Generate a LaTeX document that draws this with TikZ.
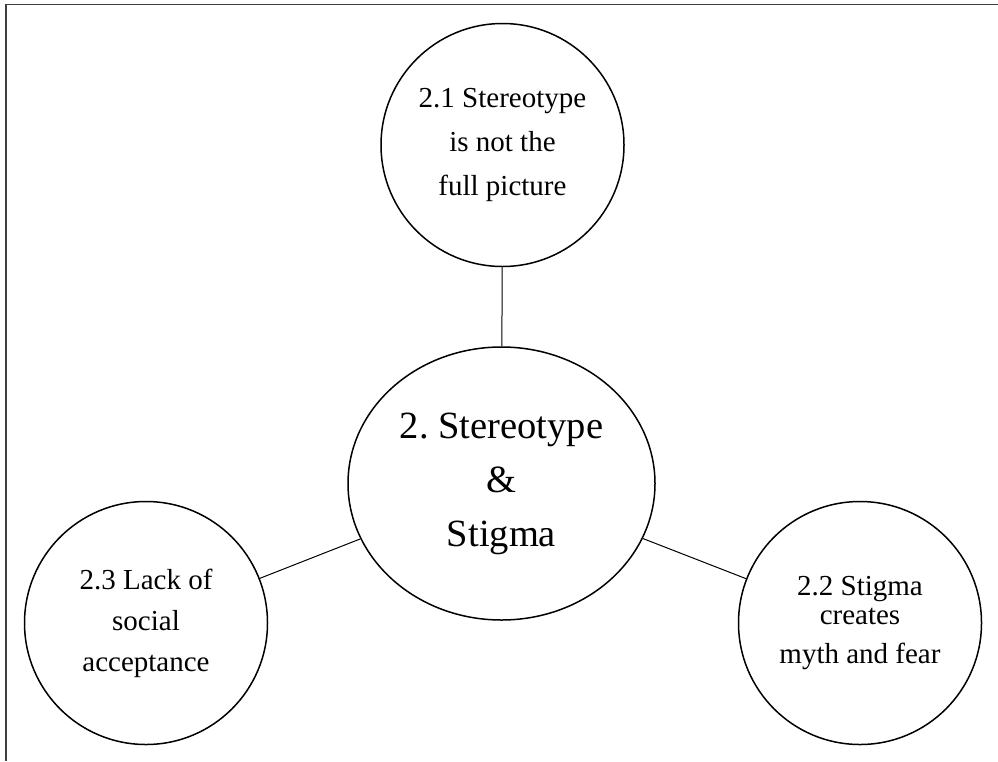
\documentclass[tikz,border=0pt]{standalone}
\usepackage{fontspec}
\setmainfont{Liberation Serif}
\frenchspacing
\usetikzlibrary{shapes.geometric}
\tikzset{
  sub/.style={circle, draw=black, line width=1.5pt, inner sep=0pt, minimum size=243pt, align=center},
  mainbox/.style={ellipse, draw=black, line width=1.5pt, inner sep=0pt, minimum width=307pt, minimum height=273pt, align=center, font=\fontsize{38.5}{54}\selectfont},
  link/.style={draw=black, line width=1pt},
  frameline/.style={draw=black!75, line width=1.5pt}
}
\begin{document}
\begin{tikzpicture}[x=1pt,y=-1pt]
\useasboundingbox (0,0) rectangle (998,761);
\coordinate (fa) at (6,761);
\coordinate (fb) at (6,4.5);
\coordinate (fc) at (998,4.5);
\draw[frameline] (fa) -- (fb) -- (fc);
\node[mainbox] (c) at (501.5,483.5) {2.\ Stereotype\\\&\\Stigma};
\node[sub, font=\fontsize{29}{44}\selectfont] (t) at (502.5,145) {2.1 Stereotype\\is not the\\full picture};
\node[sub, font=\fontsize{29}{41}\selectfont] (l) at (146,623) {2.3 Lack of\\social\\acceptance};
\node[sub, font=\fontsize{29}{39}\selectfont] (r) at (860,623) {2.2 Stigma\\[-10pt]creates\\myth and fear};
\draw[link] (t) -- (c);
\draw[link] (c) -- (l);
\draw[link] (c) -- (r);
\end{tikzpicture}
\end{document}
